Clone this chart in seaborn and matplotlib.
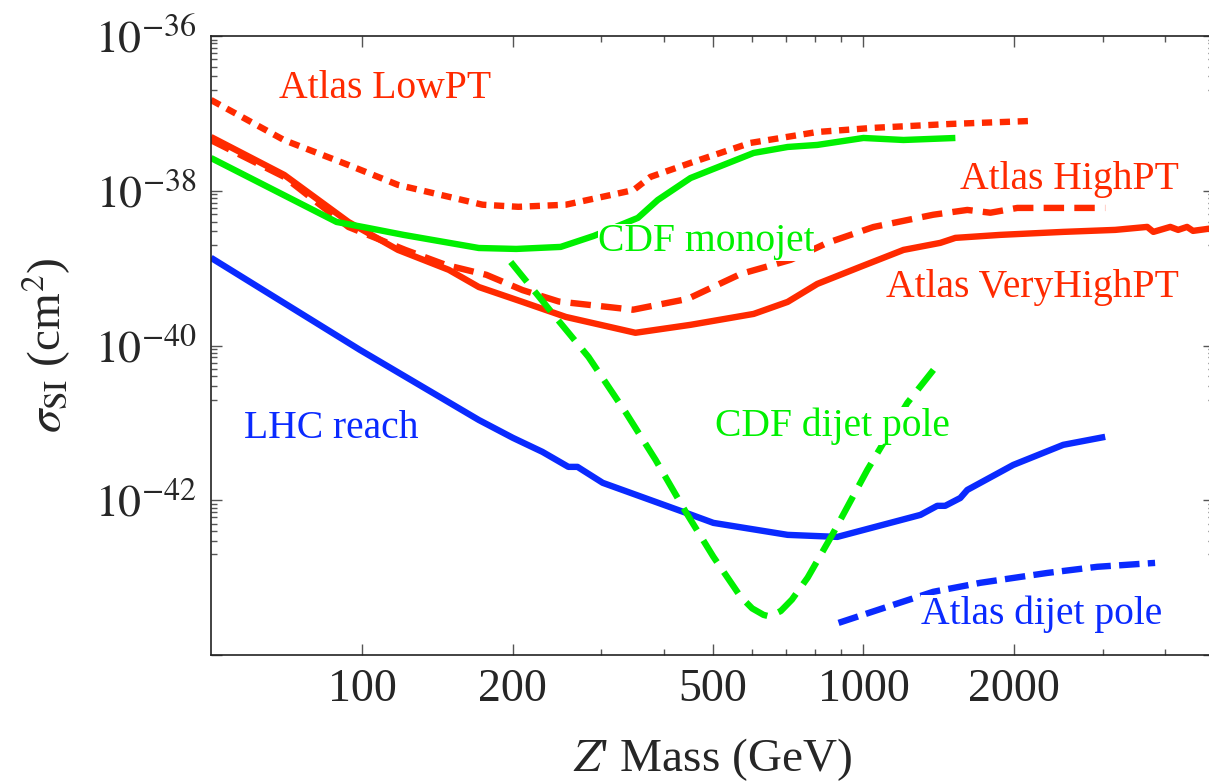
import matplotlib
matplotlib.use("Agg")
import matplotlib.pyplot as plt
from matplotlib.ticker import FixedLocator, FixedFormatter, NullFormatter
import pandas as pd
import seaborn as sns

# Atlas LowPT (red, dotted)
lowpt_mass = [50, 70, 94, 118, 174, 205, 255, 348, 376, 452, 595, 809, 1047, 1490, 2180]
lowpt_sigma = [1.49e-37, 4.5e-38, 2.15e-38, 1.19e-38, 6.6e-39, 6.2e-39, 6.6e-39, 1.02e-38,
               1.51e-38, 2.29e-38, 4.15e-38, 5.75e-38, 6.5e-38, 7.3e-38, 8.0e-38]

# Atlas HighPT (red, dashed)
highpt_mass = [50, 70, 94, 122, 147, 177, 209, 247, 347, 446, 569, 716, 847, 1047, 1378,
               1611, 1791, 2027, 3034]
highpt_sigma = [4.5e-38, 1.51e-38, 3.4e-39, 1.72e-39, 1.1e-39, 8.2e-40, 5.2e-40, 3.7e-40,
                2.9e-40, 4.0e-40, 8.4e-40, 1.28e-39, 2.12e-39, 3.4e-39, 4.9e-39, 5.65e-39,
                5.2e-39, 6.0e-39, 6.0e-39]

# Atlas VeryHighPT (red, solid)
veryhigh_mass = [50, 70, 94, 118, 149, 171, 209, 255, 351, 452, 604, 706, 809, 986, 1202,
                 1423, 1525, 1875, 2502, 3177, 3680, 3785, 4091, 4241, 4418, 4541, 5000]
veryhigh_sigma = [4.95e-38, 1.6e-38, 3.95e-39, 1.72e-39, 9.5e-40, 5.7e-40, 3.66e-40, 2.34e-40,
                  1.46e-40, 1.85e-40, 2.56e-40, 3.66e-40, 6.25e-40, 1.04e-39, 1.72e-39,
                  2.12e-39, 2.46e-39, 2.69e-39, 2.94e-39, 3.12e-39, 3.41e-39, 2.94e-39,
                  3.41e-39, 3.12e-39, 3.41e-39, 3.03e-39, 3.3e-39]

# CDF monojet (green, solid)
monojet_mass = [50, 89, 103, 121, 171, 203, 249, 290, 355, 389, 452, 604, 706, 809, 1000, 1202, 1525]
monojet_sigma = [2.65e-38, 3.95e-39, 3.3e-39, 2.69e-39, 1.82e-39, 1.77e-39, 1.88e-39, 2.61e-39,
                 4.46e-39, 7.6e-39, 1.46e-38, 3.08e-38, 3.68e-38, 3.91e-38, 4.81e-38,
                 4.53e-38, 4.81e-38]

# CDF dijet pole (green, dashed)
cdf_dijet_mass = [198, 244, 283, 336, 385, 442, 502, 569, 600, 632, 650, 684, 720, 774, 871,
                  1018, 1223, 1379]
cdf_dijet_sigma = [1.2e-39, 2.27e-40, 7.1e-41, 1.35e-41, 3.33e-42, 7.1e-43, 1.86e-43, 5.65e-44,
                   4.0e-44, 3.3e-44, 3.15e-44, 3.7e-44, 5.2e-44, 1.0e-43, 3.8e-43, 2.47e-42,
                   1.81e-41, 4.84e-41]

# LHC reach (blue, solid)
lhc_mass = [50, 99, 171, 200, 229, 258, 269, 302, 442, 502, 706, 887, 1299, 1403, 1455,
            1560, 1611, 1989, 2502, 3034]
lhc_sigma = [1.36e-39, 8.8e-41, 1.09e-41, 6.4e-42, 4.22e-42, 2.7e-42, 2.7e-42, 1.68e-42,
             6.9e-43, 5.1e-43, 3.57e-43, 3.36e-43, 6.47e-43, 8.47e-43, 8.47e-43, 1.07e-42,
             1.36e-42, 2.86e-42, 5.2e-42, 6.6e-42]

# Atlas dijet pole (blue, dashed)
atlas_dijet_mass = [892, 1116, 1378, 1710, 2327, 2925, 3815]
atlas_dijet_sigma = [2.6e-44, 4.2e-44, 6.56e-44, 8.57e-44, 1.15e-43, 1.38e-43, 1.55e-43]

x_major = [100, 200, 500, 1000, 2000]
x_minor = [300, 400, 600, 700, 800, 900, 3000, 4000]
y_major = [1e-36, 1e-38, 1e-40, 1e-42, 1e-44]
y_labels = [r"$10^{-36}$", r"$10^{-38}$", r"$10^{-40}$", r"$10^{-42}$", ""]

RED = "#ff2a00"
GREEN = "#00f000"
BLUE = "#0a2aff"

sns.set_style("ticks")
plt.rcParams["font.family"] = ["Liberation Serif", "DejaVu Serif"]
plt.rcParams["mathtext.fontset"] = "stix"

fig = plt.figure(figsize=(12.09, 7.81), dpi=100)
ax = fig.add_axes([211 / 1209, 1 - 655 / 781, 1003 / 1209, 619 / 781])
ax.set_xscale("log")
ax.set_yscale("log")

lw = 4.6
series = [
    (veryhigh_mass, veryhigh_sigma, RED, "-"),
    (highpt_mass, highpt_sigma, RED, (0, (3.2, 1.6))),
    (lowpt_mass, lowpt_sigma, RED, (0, (1.6, 1.2))),
    (monojet_mass, monojet_sigma, GREEN, "-"),
    (lhc_mass, lhc_sigma, BLUE, "-"),
    (atlas_dijet_mass, atlas_dijet_sigma, BLUE, (0, (3.2, 1.3))),
    (cdf_dijet_mass, cdf_dijet_sigma, GREEN, (0, (4.0, 1.9))),
]
for m, s, c, ls in series:
    df = pd.DataFrame({"m": m, "s": s})
    sns.lineplot(data=df, x="m", y="s", ax=ax, color=c, linewidth=lw, linestyle=ls,
                 estimator=None, solid_capstyle="butt", dash_capstyle="butt")

ax.set_xlim(50, 5000)
ax.set_ylim(1e-44, 1e-36)

ax.xaxis.set_major_locator(FixedLocator(x_major))
ax.xaxis.set_major_formatter(FixedFormatter([str(v) for v in x_major]))
ax.xaxis.set_minor_locator(FixedLocator(x_minor))
ax.xaxis.set_minor_formatter(NullFormatter())

y_minor = [f * d for d in [1e-36, 1e-38, 1e-40, 1e-42] for f in [0.9, 0.8, 0.7, 0.6, 0.5, 0.4, 0.3, 0.2]]
ax.yaxis.set_major_locator(FixedLocator(y_major))
ax.yaxis.set_major_formatter(FixedFormatter(y_labels))
ax.yaxis.set_minor_locator(FixedLocator(y_minor))
ax.yaxis.set_minor_formatter(NullFormatter())

ax.tick_params(which="both", direction="in", top=True, right=True, color="#555555", width=1.0)
ax.tick_params(which="major", length=8, labelsize=33, pad=10)
ax.tick_params(which="minor", length=4.5)
for sp in ax.spines.values():
    sp.set_color("#222222")
    sp.set_linewidth(1.2)

ax.set_xlabel(r"$Z$' Mass (GeV)", fontsize=34, labelpad=18)
ax.set_ylabel(r"$\sigma_{\rm SI}$ (cm$^2$)", fontsize=34, labelpad=16)

box = dict(facecolor="white", edgecolor="none", pad=0)
labels = [
    ("Atlas LowPT", 385, 88, RED),
    ("Atlas HighPT", 1069, 180, RED),
    ("CDF monojet", 706, 242, GREEN),
    ("Atlas VeryHighPT", 1032, 288, RED),
    ("LHC reach", 331, 428, BLUE),
    ("CDF dijet pole", 832, 426, GREEN),
    ("Atlas dijet pole", 1042, 614, BLUE),
]
for txt, px, py, c in labels:
    fig.text(px / 1209, 1 - py / 781, txt, color=c, fontsize=28.5, ha="center", va="center",
             bbox=box, zorder=10)

fig.savefig("out.png", dpi=100)
